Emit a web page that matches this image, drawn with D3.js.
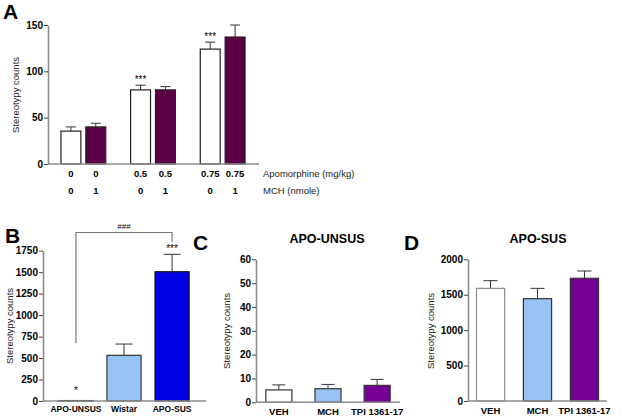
<!DOCTYPE html>
<html><head><meta charset="utf-8">
<script src="https://cdn.jsdelivr.net/npm/d3@7"></script>
<style>
body{margin:0;background:#fff;}
svg{font-family:"Liberation Sans",Arial,sans-serif;}
</style></head>
<body><svg id="c" width="622" height="419"></svg>
<script>
// ---------- DATA ----------
const aApo = ["0","0","0.5","0.5","0.75","0.75"];
const aMch = ["0","1","0","1","0","1"];
const aGroups = ["0","0.5","0.75"];
const aMeans = [35.5, 40, 80, 80, 124, 137];
const aErr = [40, 44, 85, 83.5, 131.5, 150];
const aTicks = [0, 50, 100, 150];
const aSig = ["", "", "***", "", "***", ""];

const bCats = ["APO-UNSUS", "Wistar", "APO-SUS"];
const bMeans = [5, 532, 1505];
const bErr = [5, 663, 1708];
const bTicks = [0, 250, 500, 750, 1000, 1250, 1500, 1750];
const bSig = ["*", "", "***"];

const cCats = ["VEH", "MCH", "TPI 1361-17"];
const cMeans = [5.2, 5.7, 7.1];
const cErr = [7.3, 7.5, 9.6];
const cTicks = [0, 10, 20, 30, 40, 50, 60];

const dCats = ["VEH", "MCH", "TPI 1361-17"];
const dMeans = [1590, 1444, 1732];
const dErr = [1698, 1590, 1835];
const dTicks = [0, 500, 1000, 1500, 2000];

const svg = d3.select("#c");
const axisCol = "#8c8c8c";

function yAxis(g, y, ticks, x0) {
  const ax = g.append("g").attr("transform", `translate(${x0},0)`)
    .call(d3.axisLeft(y).tickValues(ticks).tickFormat(d3.format("d")).tickSize(4).tickSizeOuter(0).tickPadding(1));
  ax.select(".domain").attr("stroke", axisCol).attr("stroke-width", 1.6);
  ax.selectAll(".tick line").attr("stroke", "#444").attr("stroke-width", 1);
  ax.selectAll(".tick text").attr("font-size", 10).attr("font-weight", "bold").attr("fill", "#000")
    .attr("font-family", "Liberation Sans, Arial, sans-serif");
  return ax;
}
function xLine(g, x1, x2, yv) {
  g.append("line").attr("x1", x1).attr("x2", x2).attr("y1", yv).attr("y2", yv)
    .attr("stroke", axisCol).attr("stroke-width", 1.6);
}
function yTitle(g, x, y) {
  g.append("text").attr("transform", `translate(${x},${y}) rotate(-90)`)
    .attr("text-anchor", "middle").attr("font-size", 9.5).attr("fill", "#222").text("Stereotypy counts");
}
function letter(g, t, x, y) {
  g.append("text").attr("x", x).attr("y", y).attr("font-size", 21).attr("font-weight", "bold").text(t);
}
function bars(g, cats, means, errs, x, y, fills, strokes) {
  cats.forEach((c, i) => {
    const bx = x(c), bw = x.bandwidth(), cx = bx + bw / 2;
    g.append("line").attr("x1", cx).attr("x2", cx).attr("y1", y(means[i])).attr("y2", y(errs[i]))
      .attr("stroke", "#333").attr("stroke-width", 1);
    g.append("line").attr("x1", cx - bw * 0.25).attr("x2", cx + bw * 0.25).attr("y1", y(errs[i])).attr("y2", y(errs[i]))
      .attr("stroke", "#333").attr("stroke-width", 1);
    g.append("rect").attr("x", bx).attr("y", y(means[i])).attr("width", bw)
      .attr("height", y(0) - y(means[i])).attr("fill", fills[i]).attr("stroke", strokes[i]).attr("stroke-width", 1.2);
  });
}

// ---------- Panel A ----------
{
  const g = svg.append("g");
  const y = d3.scaleLinear().domain([0, 150]).range([164, 25]);
  const x0 = d3.scaleBand().domain(aGroups).range([48, 258]).paddingInner(0.357).paddingOuter(0.186);
  const x1 = d3.scaleBand().domain([0, 1]).range([0, x0.bandwidth()]).paddingInner(0.2);
  const aFill = ["#ffffff", "#5b0046"];
  const pos = aApo.map((a, i) => x0(a) + x1(i % 2));
  const bw = x1.bandwidth();
  aMeans.forEach((m, i) => {
    const cx = pos[i] + bw / 2;
    g.append("line").attr("x1", cx).attr("x2", cx).attr("y1", y(m)).attr("y2", y(aErr[i])).attr("stroke", "#333");
    g.append("line").attr("x1", cx - 5).attr("x2", cx + 5).attr("y1", y(aErr[i])).attr("y2", y(aErr[i])).attr("stroke", "#333");
    g.append("rect").attr("x", pos[i]).attr("y", y(m)).attr("width", bw).attr("height", y(0) - y(m))
      .attr("fill", aFill[i % 2]).attr("stroke", "#222").attr("stroke-width", 1.2);
    if (aSig[i]) g.append("text").attr("x", cx).attr("y", y(aErr[i]) - 2).attr("text-anchor", "middle")
      .attr("font-size", 10).text(aSig[i]);
    g.append("text").attr("x", cx).attr("y", 177).attr("text-anchor", "middle").attr("font-size", 9.5)
      .attr("font-weight", "bold").text(aApo[i]);
    g.append("text").attr("x", cx).attr("y", 194).attr("text-anchor", "middle").attr("font-size", 9.5)
      .attr("font-weight", "bold").text(aMch[i]);
  });
  xLine(g, 48, 259, 164);
  yAxis(g, y, aTicks, 48);
  g.append("text").attr("x", 263).attr("y", 177).attr("font-size", 9.5).attr("fill", "#222").text("Apomorphine (mg/kg)");
  g.append("text").attr("x", 263).attr("y", 194).attr("font-size", 9.5).attr("fill", "#222").text("MCH (nmole)");
  yTitle(g, 19, 95);
  letter(g, "A", 3, 19);
}

// ---------- Panel B ----------
{
  const g = svg.append("g");
  const y = d3.scaleLinear().domain([0, 1750]).range([401, 250.7]);
  const x = d3.scaleBand().domain(bCats).range([43, 205]).paddingInner(0.29).paddingOuter(0.33);
  bars(g, bCats, bMeans, bErr, x, y, ["#ffffff", "#99c3f4", "#0000e4"], ["#222", "#333", "#111"]);
  xLine(g, 43, 206, 401);
  yAxis(g, y, bTicks, 43);
  const ax = g.append("g").attr("transform", "translate(0,401)")
    .call(d3.axisBottom(x).tickSize(0).tickPadding(5));
  ax.select(".domain").remove();
  ax.selectAll("text").attr("font-size", 8.5).attr("font-weight", "bold").attr("fill", "#000")
    .attr("font-family", "Liberation Sans, Arial, sans-serif");
  bCats.forEach((c, i) => {
    if (bSig[i]) g.append("text").attr("x", x(c) + x.bandwidth() / 2).attr("y", i === 0 ? 394 : y(bErr[i]) - 2)
      .attr("text-anchor", "middle").attr("font-size", 10).text(bSig[i]);
  });
  // bracket
  const lx = x(bCats[0]) + x.bandwidth() / 2, rx = x(bCats[2]) + x.bandwidth() / 2;
  g.append("path").attr("d", `M${lx},343V232.5H${rx}V242`).attr("fill", "none").attr("stroke", "#777").attr("stroke-width", 1.2);
  g.append("text").attr("x", (lx + rx) / 2).attr("y", 229).attr("text-anchor", "middle").attr("font-size", 8).text("###");
  yTitle(g, 13, 326);
  letter(g, "B", 5, 243);
}

// ---------- Panel C ----------
{
  const g = svg.append("g");
  const y = d3.scaleLinear().domain([0, 60]).range([402.3, 259.3]);
  const x = d3.scaleBand().domain(cCats).range([256, 400]).paddingInner(0.47).paddingOuter(0.2);
  bars(g, cCats, cMeans, cErr, x, y, ["#ffffff", "#99c3f4", "#760094"], ["#333", "#333", "#333"]);
  xLine(g, 256, 400, 402.3);
  yAxis(g, y, cTicks, 256);
  const ax = g.append("g").attr("transform", "translate(0,402.3)")
    .call(d3.axisBottom(x).tickSize(0).tickPadding(6));
  ax.select(".domain").remove();
  ax.selectAll("text").attr("font-size", 9.5).attr("font-weight", "bold").attr("fill", "#000")
    .attr("font-family", "Liberation Sans, Arial, sans-serif");
  g.append("text").attr("x", 327).attr("y", 243).attr("text-anchor", "middle").attr("font-size", 12.5)
    .attr("font-weight", "bold").text("APO-UNSUS");
  yTitle(g, 230, 331);
  letter(g, "C", 193, 250);
}

// ---------- Panel D ----------
{
  const g = svg.append("g");
  const y = d3.scaleLinear().domain([0, 2000]).range([401, 259.3]);
  const x = d3.scaleBand().domain(dCats).range([468, 607]).paddingInner(0.4).paddingOuter(0.18);
  bars(g, dCats, dMeans, dErr, x, y, ["#ffffff", "#99c3f4", "#760094"], ["#8c8c8c", "#333", "#333"]);
  xLine(g, 468, 607, 401);
  yAxis(g, y, dTicks, 468);
  const ax = g.append("g").attr("transform", "translate(0,401)")
    .call(d3.axisBottom(x).tickSize(0).tickPadding(6));
  ax.select(".domain").remove();
  ax.selectAll("text").attr("font-size", 9.5).attr("font-weight", "bold").attr("fill", "#000")
    .attr("font-family", "Liberation Sans, Arial, sans-serif");
  g.append("text").attr("x", 538).attr("y", 243).attr("text-anchor", "middle").attr("font-size", 12.5)
    .attr("font-weight", "bold").text("APO-SUS");
  yTitle(g, 434, 331);
  letter(g, "D", 404, 250);
}
</script></body></html>
